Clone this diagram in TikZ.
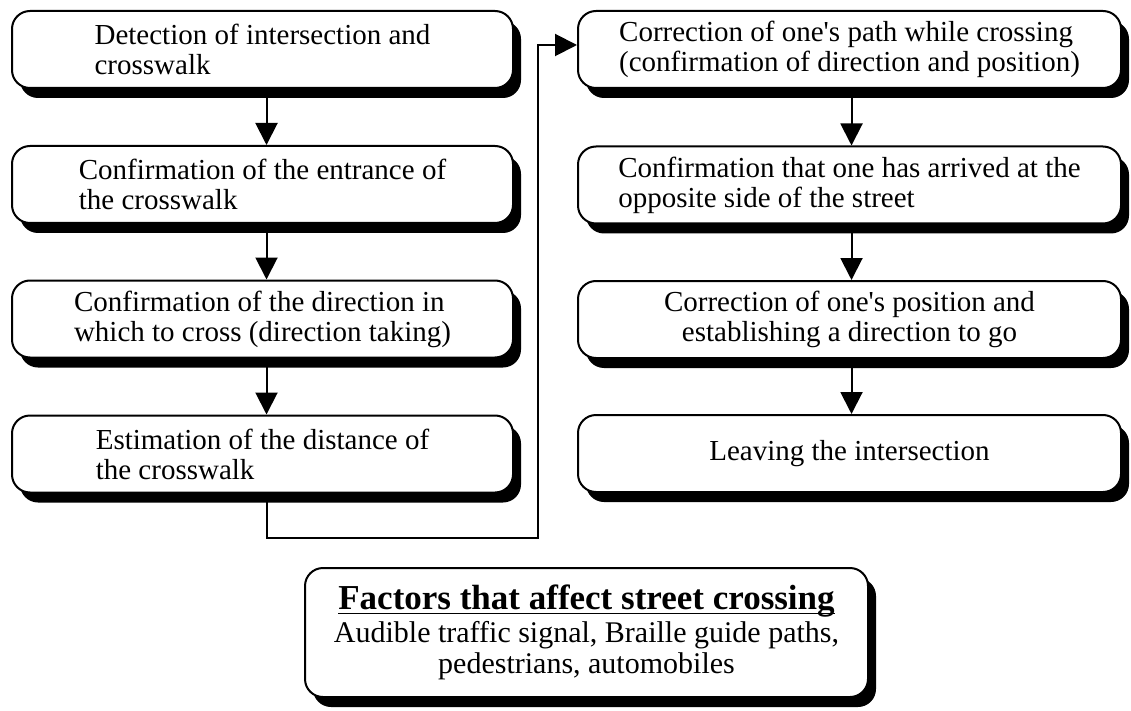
\documentclass[tikz,border=0pt]{standalone}
\usepackage{fontspec}
\setmainfont{Liberation Serif}
\newsavebox\myulbox
\newcommand\mythickul[1]{\sbox\myulbox{#1}\rlap{\usebox\myulbox}\rule[-4.5pt]{\wd\myulbox}{1.6pt}}
\usetikzlibrary{arrows.meta,shadows}
\begin{document}
\begin{tikzpicture}[x=1pt,y=-1pt,
  box/.style={draw, line width=2pt, rounded corners=18pt, fill=white, inner sep=0pt,
    minimum height=77pt,
    drop shadow={shadow xshift=8pt, shadow yshift=-10pt, fill=black, opacity=1},
    font=\fontsize{29}{30}\selectfont},
  lbox/.style={box, minimum width=501pt, align=left},
  rbox/.style={box, minimum width=543pt},
  fbox/.style={box, minimum width=563pt, minimum height=129pt, align=center,
    font=\fontsize{30}{31}\selectfont},
  arr/.style={line width=2pt, -{Triangle[length=22pt,width=22pt]}}]
\useasboundingbox (0,0) rectangle (1131,711);

\node[lbox] (L1) at (262.5,49.5) {Detection of intersection and\\crosswalk};
\node[lbox] (L2) at (262.5,184.5) {Confirmation of the entrance of\\the crosswalk};
\node[lbox] (L3) at (262.5,319) {Confirmation of the direction in\\which to cross (direction taking)};
\node[lbox] (L4) at (262.5,454) {Estimation of the distance of\\the crosswalk};

\node[rbox, align=left] (R1) at (849.5,49.5) {Correction of one\textquotesingle s path while crossing\\(confirmation of direction and position)};
\node[rbox, align=left] (R2) at (849.5,185) {Confirmation that one has arrived at the\\opposite side of the street};
\node[rbox, align=center] (R3) at (849.5,319.5) {Correction of one\textquotesingle s position and\\establishing a direction to go};
\node[rbox] (R4) at (849.5,453.5) {Leaving the intersection};

\node[fbox] (F) at (586.5,632.5) {{\fontsize{35}{36}\selectfont\bfseries\mythickul{Factors that affect street crossing}}\\[2pt]
  Audible traffic signal, Braille guide paths,\\pedestrians, automobiles};

\draw[arr] ([xshift=4pt]L1.south) -- ([xshift=4pt]L2.north);
\draw[arr] ([xshift=4pt]L2.south) -- ([xshift=4pt]L3.north);
\draw[arr] ([xshift=4pt]L3.south) -- ([xshift=4pt]L4.north);
\draw[arr] ([xshift=2pt]R1.south) -- ([xshift=2pt]R2.north);
\draw[arr] ([xshift=2pt]R2.south) -- ([xshift=2pt]R3.north);
\draw[arr] ([xshift=2pt]R3.south) -- ([xshift=2pt]R4.north);

\coordinate (c1) at (538,538);
\draw[arr] ([xshift=4pt]L4.south) |- (c1) |- ([yshift=4.5pt]R1.west);
\end{tikzpicture}
\end{document}
